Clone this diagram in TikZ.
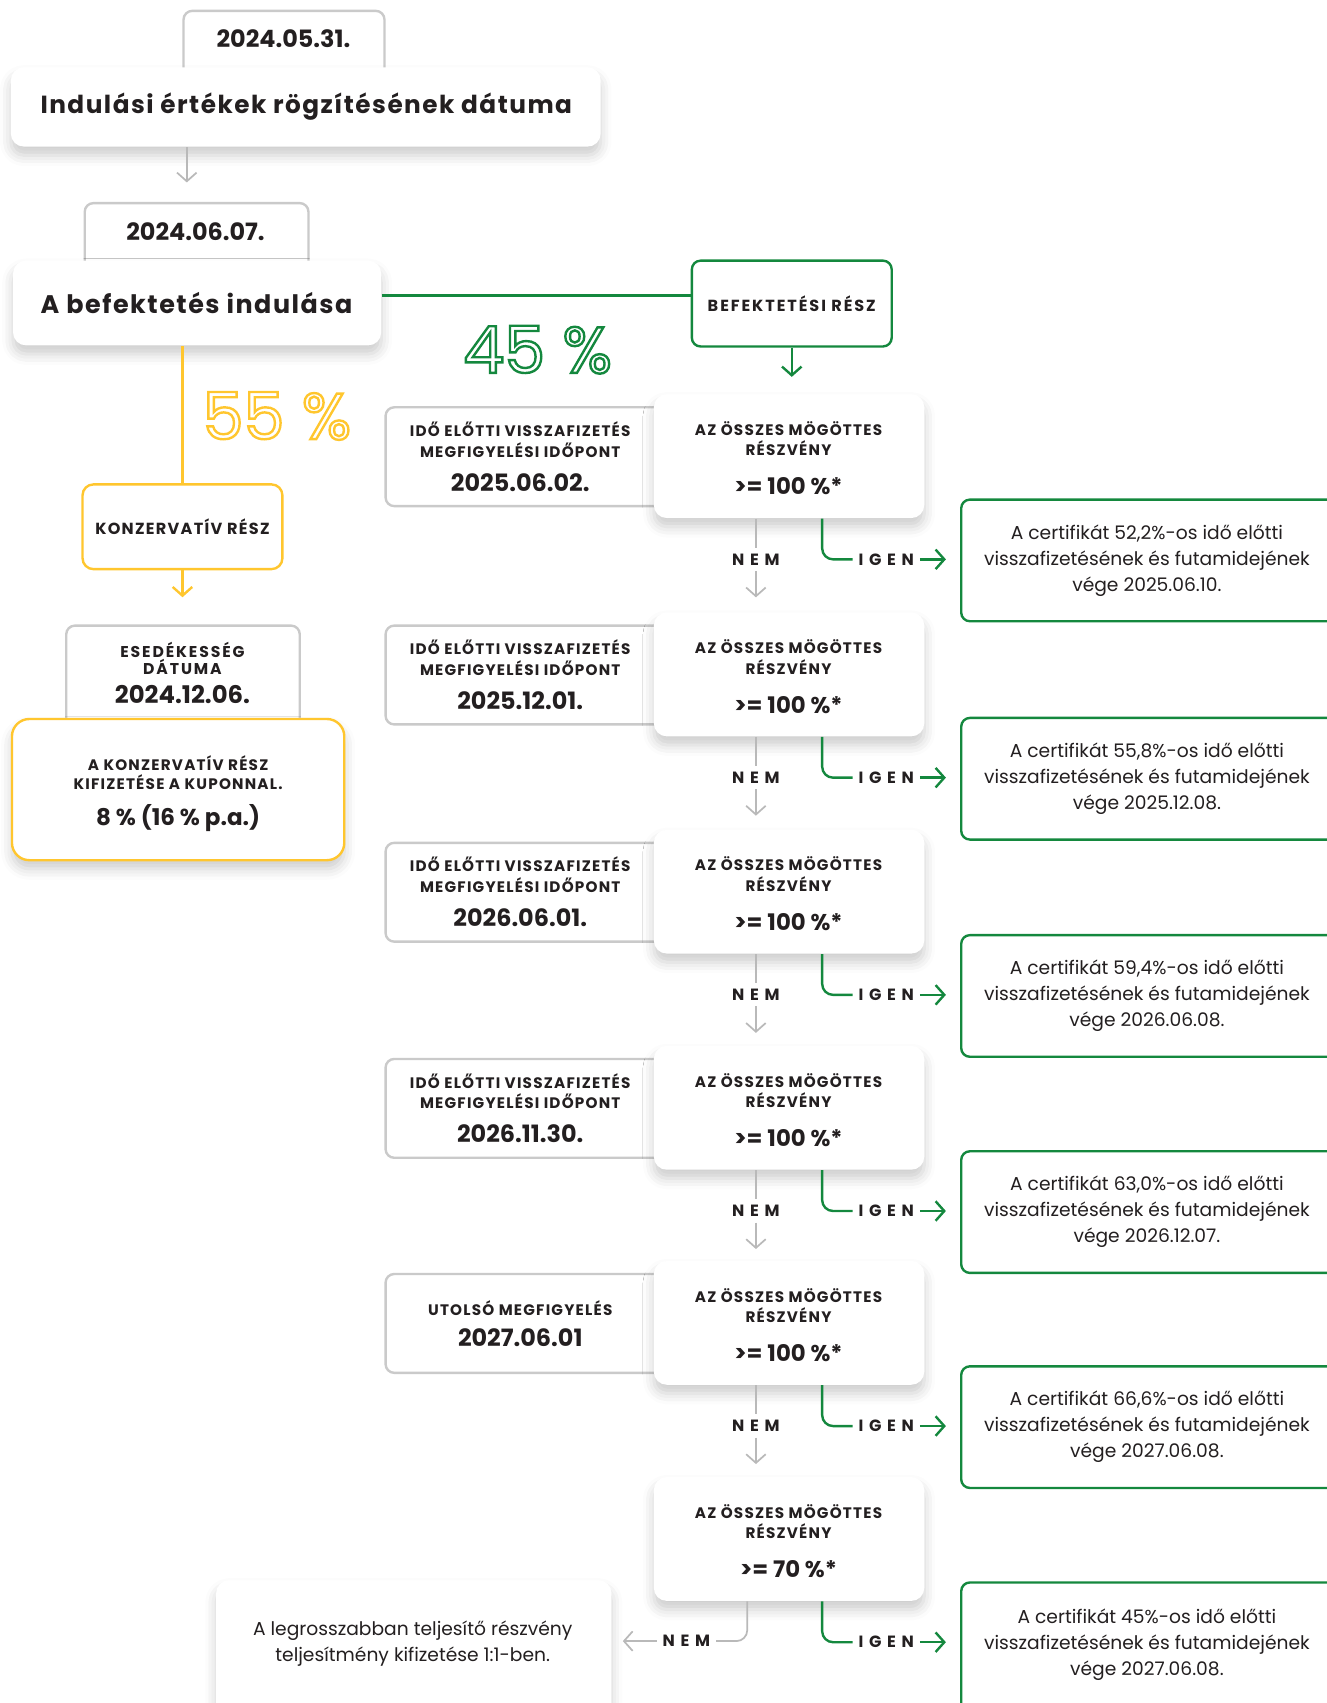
\documentclass[tikz,border=0pt]{standalone}
\usepackage{fontspec}
\setmainfont{Poppins}
\newfontfamily\spA[LetterSpace=6]{Poppins}
\newfontfamily\spB[LetterSpace=35]{Poppins}
\newfontfamily\spC[LetterSpace=12]{Poppins}
\newfontfamily\spD[LetterSpace=8]{Poppins}
\newcommand\outltext[2]{\special{pdf:literal q 1 Tr 1.1 w}\textcolor{#1}{#2}\special{pdf:literal Q}}
\usetikzlibrary{arrows.meta,fit,shadows.blur,calc}
\definecolor{gr}{RGB}{20,136,62}
\definecolor{ye}{RGB}{255,198,46}
\definecolor{bd}{RGB}{202,202,202}
\definecolor{ar}{RGB}{185,185,185}
\definecolor{tx}{RGB}{35,31,32}
\tikzset{
 gbox/.style={draw=bd, line width=1.1pt, rounded corners=4pt, fill=white, inner sep=0pt},
 shbox/.style={fill=white, rounded corners=6pt, inner sep=0pt, blur shadow={shadow xshift=0pt,shadow yshift=-4pt,shadow blur radius=5pt,shadow opacity=20}},
 grbox/.style={draw=gr, line width=1.1pt, rounded corners=4pt, fill=white, inner sep=0pt},
 yebox/.style={draw=ye, line width=1.1pt, rounded corners=5pt, fill=white, inner sep=0pt},
 yeshbox/.style={yebox, blur shadow={shadow xshift=0pt,shadow yshift=-4pt,shadow blur radius=5pt,shadow opacity=20}},
 tipb/.style={-{Straight Barb[length=4pt,width=9pt]}},
 garr/.style={draw=ar, line width=0.8pt},
 grline/.style={draw=gr, line width=1.1pt},
 yeline/.style={draw=ye, line width=1.1pt},
 caps/.style={font=\bfseries\spD\fontsize{7}{9.5}\selectfont, align=center},
 date/.style={font=\bfseries\fontsize{11}{12}\selectfont},
 yn/.style={font=\bfseries\spB\fontsize{7.5}{9}\selectfont, inner sep=2.5pt},
 res/.style={font=\fontsize{8.6}{12}\selectfont, align=center},
}
\begin{document}
\begin{tikzpicture}[x=0.5pt,y=-0.5pt, every node/.append style={text=tx, inner sep=1pt}]
\useasboundingbox (0,0) rectangle (1221,1568);
% ---------- top ----------
\node[gbox, fit={(169,10) (354,74)}] (a) {};
\node[date] (ta) at (261,36) {2024.05.31.};
\node[shbox, fit={(10,62) (553,135)}] (b) {};
\node[font=\bfseries\spA\fontsize{11.4}{13}\selectfont] (tb) at (282,98) {Indulási értékek rögzítésének dátuma};
\coordinate (cA) at (172,0);
\draw[garr, tipb, shorten >=9.5pt] (b.south -| cA) -- (cA |- 0,187);
\node[gbox, fit={(78,187) (284,250)}] (c) {};
\node[date] (tc) at (180,213) {2024.06.07.};
\node[shbox, fit={(12,240) (351,318)}] (d) {};
\node[font=\bfseries\spA\fontsize{11.7}{14}\selectfont] (td) at (181,279) {A befektetés indulása};
% green branch
\node[grbox, fit={(637,240) (821,319)}] (e) {};
\node[font=\bfseries\spC\fontsize{7.4}{9}\selectfont] (te) at (729,280) {BEFEKTETÉSI RÉSZ};
\draw[grline] ([yshift=3.5pt]d.east) -- ([yshift=3.5pt]e.west |- d.east);
\node (p45) at (495,322) {\fontsize{30}{30}\selectfont\outltext{gr}{45 \%}};
% yellow branch
\node[yebox, fit={(76,446) (260,524)}] (f) {};
\node[font=\bfseries\spD\fontsize{7.4}{9}\selectfont] (tf) at (168,485) {KONZERVATÍV RÉSZ};
\draw[yeline] (d.south -| f.north) -- (f.north);
\node (p55) at (255,383) {\fontsize{30}{30}\selectfont\outltext{ye}{55 \%}};
\node[gbox, fit={(61,576) (276,680)}] (g) {};
\draw[yeline, tipb, shorten >=12.5pt] (f.south) -- (g.north -| f.south);
\node[font=\bfseries\spC\fontsize{7.2}{8}\selectfont] (tg1) at (168,598) {ESEDÉKESSÉG};
\node[font=\bfseries\spC\fontsize{7.2}{8}\selectfont] (tg2) at (168,614) {DÁTUMA};
\node[date, font=\bfseries\fontsize{11.2}{12}\selectfont] (tg3) at (168,639) {2024.12.06.};
\node[yeshbox, rounded corners=8pt, fit={(11,662) (317,792)}] (h) {};
\node[caps, font=\bfseries\spD\fontsize{7}{8.5}\selectfont] (th1) at (164,711.5) {A KONZERVATÍV RÉSZ\\KIFIZETÉSE A KUPONNAL.};
\node[date, font=\bfseries\fontsize{10.6}{12}\selectfont] (th3) at (164,753) {8 \% (16 \% p.a.)};
% ---------- right column ----------
\coordinate (cN) at (696,0);
\coordinate (cI) at (757,0);
\draw[grline, tipb, shorten >=8pt] (e.south) -- (e.south |- 0,363);
\foreach \T/\dt [count=\i] in {363/2025.06.02., 564/2025.12.01., 764/2026.06.01., 963/2026.11.30.}{
  \node[gbox, fit={(355,\T+12) (612,\T+103)}] (l\i) {};
  \node[caps] (lh\i) at (479,\T+41.5) {IDŐ ELŐTTI VISSZAFIZETÉS\\MEGFIGYELÉSI IDŐPONT};
  \node[date] (ld\i) at (479,\T+81) {\dt};
}
\node[gbox, fit={(355,1173) (612,1264)}] (l5) {};
\node[caps] (lh5) at (479,1204) {UTOLSÓ MEGFIGYELÉS};
\node[date] (ld5) at (479,1232) {2027.06.01};
\foreach \T/\pc/\rd [count=\i] in {363/{52,2}/2025.06.10., 564/{55,8}/2025.12.08., 764/{59,4}/2026.06.08., 963/{63,0}/2026.12.07., 1161/{66,6}/2027.06.08.}{
  \node[shbox, fit={(602,\T) (851,\T+114)}] (s\i) {};
  \node[caps] (sh\i) at (726,\T+41) {AZ ÖSSZES MÖGÖTTES\\RÉSZVÉNY};
  \node[date, font=\bfseries\fontsize{10.5}{12}\selectfont] (sv\i) at (726,\T+85) {>= 100 \%*};
  \node[yn] (nem\i) at (696,\T+152) {NEM};
  \draw[garr] (s\i.south -| cN) -- (nem\i.north);
  \draw[garr, tipb, shorten >=6pt] (nem\i.south) -- (cN |- 0,\T+199);
  \node[yn] (ig\i) at (816,\T+152) {IGEN};
  \draw[grline, rounded corners=5pt] (s\i.south -| cI) |- (ig\i.west);
  \node[grbox, fit={(885,\T+97) (1240,\T+209)}] (r\i) {};
  \draw[grline, tipb, shorten >=6.5pt] (ig\i.east) -- (r\i.west |- ig\i.east);
  \node[res] (rt\i) at (1056,\T+153) {A certifikát \pc\%-os idő előtti\\visszafizetésének és futamidejének\\vége \rd};
}
% last row
\node[shbox, fit={(602,1360) (851,1474)}] (s6) {};
\node[caps] (sh6) at (726,1401) {AZ ÖSSZES MÖGÖTTES\\RÉSZVÉNY};
\node[date, font=\bfseries\fontsize{10.5}{12}\selectfont] (sv6) at (726,1445) {>= 70 \%*};
\coordinate (cN6) at (688,0);
\node[yn] (nem6) at (632,1511) {NEM};
\draw[garr, rounded corners=5pt] (s6.south -| cN6) |- (nem6.east);
\node[shbox, fit={(199,1455) (563,1600)}] (bl) {};
\node[res] (blt) at (380,1513) {A legrosszabban teljesítő részvény\\teljesítmény kifizetése 1:1-ben.};
\draw[garr, tipb, shorten >=5pt] (nem6.west) -- (bl.east |- nem6.west);
\node[yn] (ig6) at (816,1512) {IGEN};
\draw[grline, rounded corners=5pt] (s6.south -| cI) |- (ig6.west);
\node[grbox, fit={(885,1457) (1240,1600)}] (r6) {};
\draw[grline, tipb, shorten >=6.5pt] (ig6.east) -- (r6.west |- ig6.east);
\node[res] (rt6) at (1056,1514) {A certifikát 45\%-os idő előtti\\visszafizetésének és futamidejének\\vége 2027.06.08.};
\end{tikzpicture}
\end{document}
